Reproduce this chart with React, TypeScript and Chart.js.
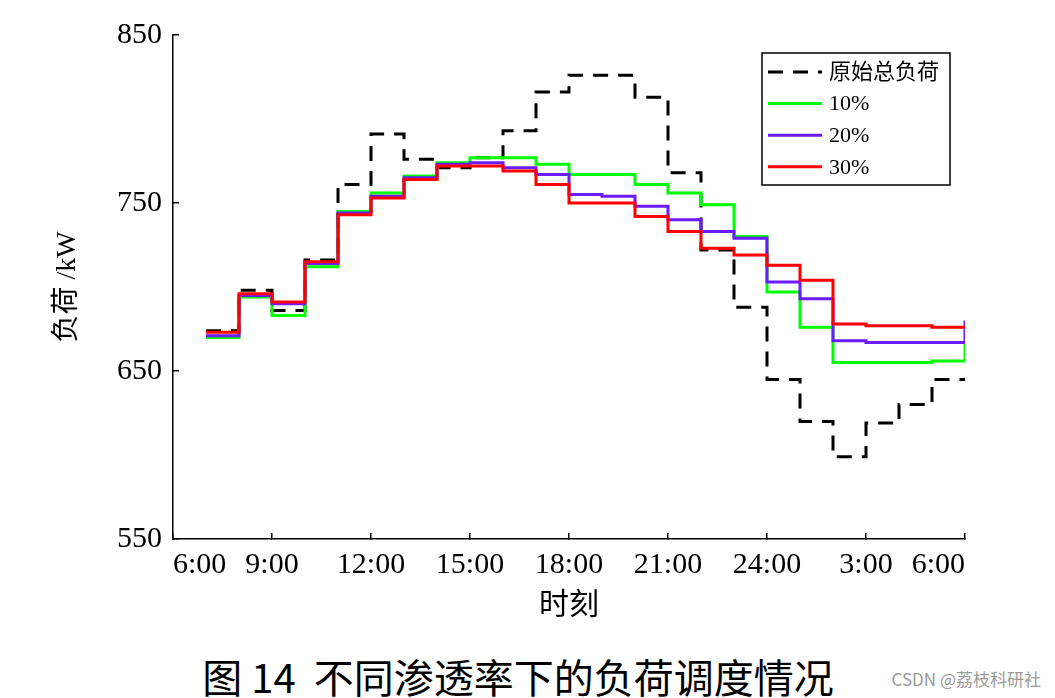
import React, { useEffect, useRef } from 'react';
import { Chart, registerables } from 'chart.js';

Chart.register(...registerables);

// hour of day (7 = 7:00, 30 = 6:00 next morning)
const hours = [7, 8, 9, 10, 11, 12, 13, 14, 15, 16, 17, 18, 19, 20, 21, 22, 23, 24, 25, 26, 27, 28, 29, 30];
const originalLoad = [674, 698, 686, 716, 761, 791, 776, 771, 777, 793, 816, 826, 826, 813, 768, 722, 688, 645, 620, 599, 619, 630, 645, 646];
const load10 = [670, 694, 683, 712, 745, 756, 766, 774, 777, 777, 773, 767, 767, 761, 756, 749, 730, 697, 676, 655, 655, 655, 656, 667];
const load20 = [671, 695, 690, 714, 744, 754, 765, 773, 774, 771, 767, 755, 754, 748, 740, 733, 729, 703, 693, 668, 667, 667, 667, 680];
const load30 = [673, 696, 691, 715, 743, 753, 764, 772, 772, 769, 761, 750, 750, 742, 733, 723, 719, 713, 704, 678, 677, 677, 676, 676];

const seriesNames = ['原始总负荷', '10%', '20%', '30%'];
const seriesColors = ['#000000', '#00ff00', '#6a1bff', '#ff0000'];

const xTickHours = [6, 9, 12, 15, 18, 21, 24, 27, 30];
const xTickLabels = ['6:00', '9:00', '12:00', '15:00', '18:00', '21:00', '24:00', '3:00', '6:00'];
const yMin = 550;
const yMax = 850;
const yStep = 100;

const serif = '"Liberation Serif", "Noto Sans CJK SC", serif';

const boxLegend = {
  id: 'boxLegend',
  afterDraw(chart: any) {
    const { ctx, chartArea } = chart;
    const w = 188;
    const h = 132;
    const left = chartArea.right - 15 - w;
    const top = chartArea.top + 18;
    ctx.save();
    ctx.fillStyle = '#fff';
    ctx.fillRect(left, top, w, h);
    ctx.strokeStyle = '#000';
    ctx.lineWidth = 1.5;
    ctx.strokeRect(left, top, w, h);
    ctx.font = '22px ' + serif;
    ctx.textBaseline = 'middle';
    ctx.textAlign = 'left';
    chart.data.datasets.forEach((ds: any, i: number) => {
      const y = top + 19 + i * 31.6;
      ctx.beginPath();
      ctx.setLineDash(ds.borderDash || []);
      ctx.strokeStyle = ds.borderColor;
      ctx.lineWidth = 3;
      ctx.moveTo(left + 6, y);
      ctx.lineTo(left + 60, y);
      ctx.stroke();
      ctx.setLineDash([]);
      ctx.fillStyle = '#000';
      ctx.fillText(ds.label, left + 67, y + 1);
    });
    ctx.restore();
  },
};

const LoadChart: React.FC = () => {
  const chartRef = useRef<HTMLCanvasElement>(null);

  useEffect(() => {
    if (!chartRef.current) return;
    const series = [originalLoad, load10, load20, load30];
    const chart = new Chart(chartRef.current, {
      type: 'line',
      data: {
        datasets: series.map((values, i) => ({
          label: seriesNames[i],
          data: hours.map((h, j) => ({ x: h, y: values[j] })),
          borderColor: seriesColors[i],
          backgroundColor: seriesColors[i],
          borderWidth: 3,
          borderDash: i === 0 ? [15, 10] : [],
          stepped: true,
          pointRadius: 0,
          fill: false,
          order: 4 - i,
        })),
      },
      options: {
        animation: false,
        responsive: false,
        layout: { padding: { top: 35, right: 90, left: 0, bottom: 0 } },
        plugins: {
          legend: { display: false },
          tooltip: { enabled: false },
        },
        scales: {
          x: {
            type: 'linear',
            min: 6,
            max: 30,
            afterBuildTicks: (scale: any) => {
              scale.ticks = xTickHours.map((v) => ({ value: v }));
            },
            afterFit: (scale: any) => {
              scale.height = 101;
            },
            ticks: {
              autoSkip: false,
              maxRotation: 0,
              align: 'inner',
              padding: 14,
              color: '#000',
              font: { family: serif, size: 30 },
              callback: (_v: any, index: number) => xTickLabels[index],
            },
            grid: { display: true, drawOnChartArea: false, tickLength: -6, color: '#000', lineWidth: 1.5 },
            border: { display: true, color: '#000', width: 1.5 },
            title: {
              display: true,
              text: '时刻',
              color: '#000',
              font: { family: serif, size: 30 },
              padding: { top: 16, bottom: 16 },
            },
          },
          y: {
            min: yMin,
            max: yMax,
            afterFit: (scale: any) => {
              scale.width = 173;
            },
            ticks: {
              stepSize: yStep,
              padding: 17,
              color: '#000',
              font: { family: serif, size: 30 },
            },
            grid: { display: true, drawOnChartArea: false, tickLength: -6, color: '#000', lineWidth: 1.5 },
            border: { display: true, color: '#000', width: 1.5 },
            title: {
              display: true,
              text: '负荷 /kW',
              color: '#000',
              font: { family: serif, size: 28 },
              padding: { top: 51, bottom: 51 },
            },
          },
        },
      },
      plugins: [boxLegend],
    });
    return () => {
      chart.destroy();
    };
  }, []);

  return <canvas ref={chartRef} width={1055} height={640} style={{ display: 'block' }} />;
};

const App: React.FC = () => (
  <div style={{ position: 'absolute', left: 0, top: 0, width: 1055, height: 698, background: '#fff', overflow: 'hidden' }}>
    <LoadChart />
    <div
      style={{
        position: 'absolute',
        left: 0,
        width: 1036,
        top: 655,
        textAlign: 'center',
        fontFamily: '"Noto Sans CJK SC", sans-serif',
        fontSize: 40,
        lineHeight: '42px',
        whiteSpace: 'pre',
        color: '#000',
      }}
    >
      图 14  不同渗透率下的负荷调度情况
    </div>
    <div
      style={{
        position: 'absolute',
        right: 14,
        top: 668,
        fontFamily: '"Noto Sans CJK SC", sans-serif',
        fontSize: 17,
        lineHeight: '22px',
        color: '#9a9a9a',
      }}
    >
      CSDN @荔枝科研社
    </div>
  </div>
);

export default App;
